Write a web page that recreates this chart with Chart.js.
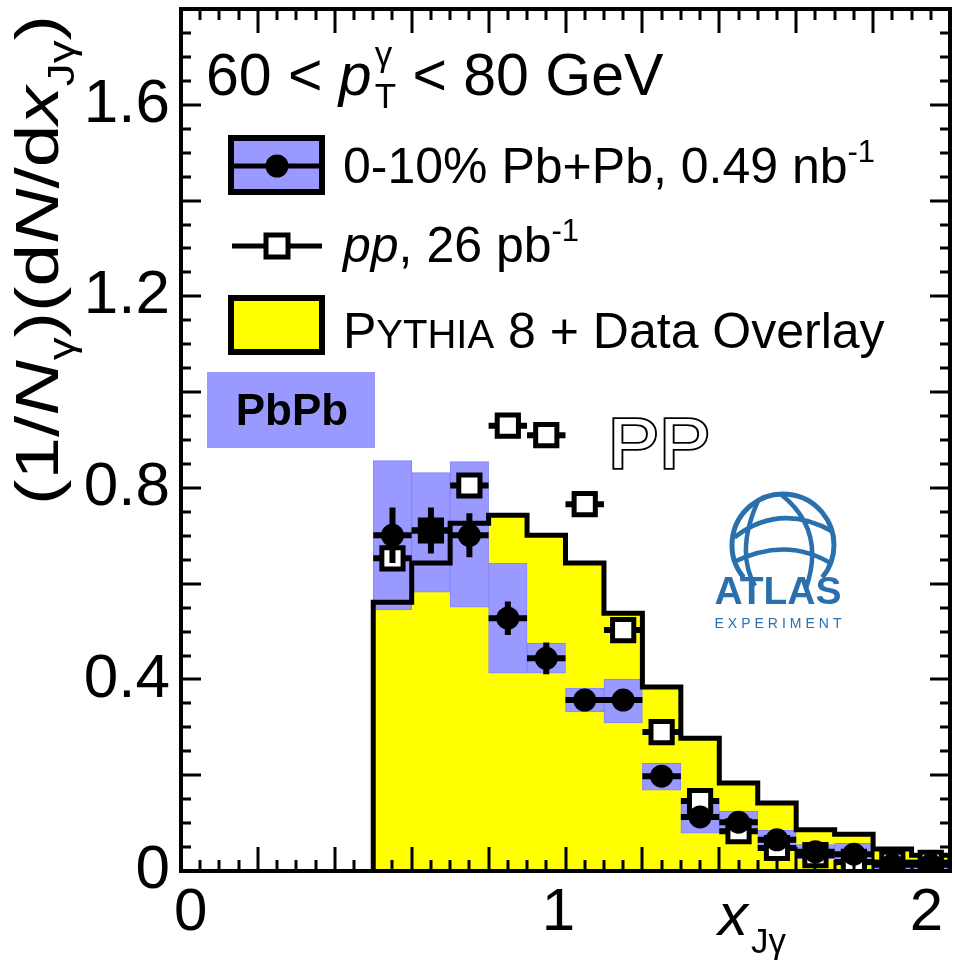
<!DOCTYPE html>
<html>
<head>
<meta charset="utf-8">
<script src="https://cdn.jsdelivr.net/npm/chart.js@4.4.0/dist/chart.umd.min.js"></script>
<style>
  html, body { margin: 0; padding: 0; background: #fff; }
  #wrap { width: 955px; height: 960px; }
</style>
</head>
<body>
<div id="wrap"><canvas id="xjChart" width="955" height="960"></canvas></div>
<script>
// x_Jγ bins (0.1 wide) and the three distributions
const binCenters = [0.55, 0.65, 0.75, 0.85, 0.95, 1.05, 1.15, 1.25, 1.35, 1.45, 1.55, 1.65, 1.75, 1.85, 1.95];
const binHalfWidth = 0.05;

const pbpbValues  = [0.701, 0.711, 0.701, 0.528, 0.444, 0.357, 0.357, 0.198, 0.113, 0.102, 0.065, 0.040, 0.035, 0.013, 0.013];
const pbpbStat    = [0.058, 0.048, 0.046, 0.035, 0.033, 0.020, 0.020, 0.015, 0.012, 0.010, 0.008, 0.006, 0.006, 0.004, 0.004];
const pbpbSysLow  = [0.545, 0.582, 0.551, 0.413, 0.413, 0.332, 0.309, 0.169, 0.079, 0.080, 0.045, 0.025, 0.012, 0.003, 0.003];
const pbpbSysHigh = [0.857, 0.832, 0.855, 0.643, 0.476, 0.382, 0.401, 0.225, 0.144, 0.125, 0.085, 0.055, 0.058, 0.024, 0.024];

const ppValues     = [0.653, 0.711, 0.805, 0.930, 0.910, 0.766, 0.503, 0.290, 0.146, 0.083, 0.048, 0.033, 0.019, 0.017, 0.017];
const pythiaValues = [0.561, 0.643, 0.726, 0.743, 0.701, 0.643, 0.538, 0.384, 0.277, 0.184, 0.142, 0.086, 0.077, 0.046, 0.033];

const xTickLabels = [0, 1, 2];
const yTickLabels = [0, 0.4, 0.8, 1.2, 1.6];

const FONT = "'Liberation Sans', Arial, Helvetica, sans-serif";
const sysBlue = '#9999ff';
const atlasBlue = '#2a70ad';

// build the chart data
const pbpbPoints = binCenters.map((c, i) => ({ x: c, y: pbpbValues[i] }));
const ppPoints = binCenters.map((c, i) => ({ x: c, y: ppValues[i] }));
const sysBoxes = binCenters.map((c, i) => ({ x: c, y: [pbpbSysLow[i], pbpbSysHigh[i]] }));

// histogram outline as steps on the bin edges
const last = binCenters.length - 1;
const pythiaSteps = [{ x: binCenters[0] - binHalfWidth, y: 0 }];
binCenters.forEach((c, i) => pythiaSteps.push({ x: c - binHalfWidth, y: pythiaValues[i] }));
pythiaSteps.push({ x: binCenters[last] + binHalfWidth, y: pythiaValues[last] });
pythiaSteps.push({ x: binCenters[last] + binHalfWidth, y: 0 });

// --- text helpers (sub/superscripts) ---
function setFont(ctx, p, base) {
  const size = Math.round(base * (p.scale || 1));
  ctx.font = (p.italic ? 'italic ' : '') + (p.bold ? 'bold ' : '') + size + 'px ' + FONT;
}
function richWidth(ctx, parts, base) {
  let w = 0;
  parts.forEach(p => {
    setFont(ctx, p, base);
    if (!p.noAdvance) w += ctx.measureText(p.text).width + (p.dx || 0);
  });
  return w;
}
function drawRich(ctx, parts, base, x, y) {
  let cx = x;
  ctx.textAlign = 'left';
  parts.forEach(p => {
    setFont(ctx, p, base);
    ctx.fillText(p.text, cx + (p.dx || 0), y + (p.dy || 0) * base);
    if (!p.noAdvance) cx += ctx.measureText(p.text).width + (p.dx || 0);
  });
}

// error bars under the markers
const errorBars = {
  id: 'errorBars',
  beforeDatasetDraw(chart, args) {
    const ds = chart.data.datasets[args.index];
    if (!ds.xHalf) return;
    const { ctx, chartArea: a, scales: { x, y } } = chart;
    ctx.save();
    ctx.beginPath();
    ctx.rect(a.left, a.top, a.right - a.left, a.bottom - a.top);
    ctx.clip();
    ctx.strokeStyle = '#000';
    ctx.lineWidth = ds.barLineWidth;
    ctx.lineCap = 'butt';
    ds.data.forEach((pt, i) => {
      const py = y.getPixelForValue(pt.y);
      ctx.beginPath();
      ctx.moveTo(x.getPixelForValue(pt.x - ds.xHalf), py);
      ctx.lineTo(x.getPixelForValue(pt.x + ds.xHalf), py);
      if (ds.yErr) {
        const px = x.getPixelForValue(pt.x);
        ctx.moveTo(px, y.getPixelForValue(pt.y - ds.yErr[i]));
        ctx.lineTo(px, y.getPixelForValue(pt.y + ds.yErr[i]));
      }
      ctx.stroke();
    });
    ctx.restore();
  }
};

// ROOT style frame with inward ticks on all four sides
const frameAndTicks = {
  id: 'frameAndTicks',
  afterDatasetsDraw(chart) {
    const { ctx, chartArea: a, scales: { x, y } } = chart;
    ctx.save();
    ctx.strokeStyle = '#000';
    ctx.lineWidth = 3;
    ctx.beginPath();
    for (let i = 0; i <= 40; i++) {
      const px = Math.round(x.getPixelForValue(i * 0.05));
      const len = i % 4 === 0 ? 24 : 11;
      ctx.moveTo(px, a.bottom); ctx.lineTo(px, a.bottom - len);
      ctx.moveTo(px, a.top); ctx.lineTo(px, a.top + len);
    }
    for (let i = 0; i <= 36; i++) {
      const py = Math.round(y.getPixelForValue(i * 0.05));
      const len = i % 4 === 0 ? 20 : 10;
      ctx.moveTo(a.left, py); ctx.lineTo(a.left + len, py);
      ctx.moveTo(a.right, py); ctx.lineTo(a.right - len, py);
    }
    ctx.stroke();
    ctx.lineWidth = 4;
    ctx.strokeRect(a.left, a.top, a.right - a.left, a.bottom - a.top);
    ctx.restore();
  }
};

function drawAtlasLogo(ctx, cx, cy, r) {
  ctx.save();
  ctx.strokeStyle = atlasBlue;
  ctx.fillStyle = atlasBlue;
  ctx.lineWidth = 5;
  ctx.beginPath();
  ctx.arc(cx, cy, r, Math.PI * 0.78, Math.PI * 2.22);
  ctx.stroke();
  ctx.save();
  ctx.beginPath();
  ctx.arc(cx, cy, r, 0, Math.PI * 2);
  ctx.clip();
  ctx.lineWidth = 4.5;
  ctx.beginPath();
  ctx.moveTo(cx - 0.95 * r, cy - 0.15 * r);
  ctx.quadraticCurveTo(cx - 0.05 * r, cy - 0.85 * r, cx + 1.0 * r, cy - 0.25 * r);
  ctx.moveTo(cx - 1.0 * r, cy + 0.35 * r);
  ctx.quadraticCurveTo(cx + 0.1 * r, cy - 0.2 * r, cx + 1.0 * r, cy + 0.4 * r);
  ctx.moveTo(cx - 0.45 * r, cy - 0.95 * r);
  ctx.quadraticCurveTo(cx - 0.95 * r, cy + 0.1 * r, cx - 0.55 * r, cy + 0.8 * r);
  ctx.moveTo(cx - 0.05 * r, cy - 1.0 * r);
  ctx.quadraticCurveTo(cx + 0.85 * r, cy - 0.3 * r, cx + 0.45 * r, cy + 0.85 * r);
  ctx.stroke();
  ctx.restore();
  ctx.textAlign = 'center';
  ctx.textBaseline = 'alphabetic';
  ctx.font = 'bold 39px ' + FONT;
  ctx.fillText('ATLAS', cx - 5, cy + 59);
  ctx.font = '14px ' + FONT;
  const word = 'EXPERIMENT';
  const gap = 4;
  let w = 0;
  for (const ch of word) w += ctx.measureText(ch).width + gap;
  w -= gap;
  let px = cx - 5 - w / 2;
  ctx.textAlign = 'left';
  for (const ch of word) {
    ctx.fillText(ch, px, cy + 83);
    px += ctx.measureText(ch).width + gap;
  }
  ctx.restore();
}

// legend, labels and axis titles
const annotations = {
  id: 'annotations',
  afterDraw(chart) {
    const { ctx } = chart;
    ctx.save();
    ctx.fillStyle = '#000';
    ctx.textBaseline = 'alphabetic';

    // header
    drawRich(ctx, [
      { text: '60 < ' },
      { text: 'p', italic: true },
      { text: 'γ', scale: 0.6, dy: -0.5, dx: 3, noAdvance: true },
      { text: 'T', scale: 0.6, dy: 0.22, dx: 3 },
      { text: ' < 80 GeV' }
    ], 59, 206, 95);

    // entry 1: PbPb with systematic box
    ctx.fillStyle = sysBlue;
    ctx.fillRect(231, 138, 91, 54);
    ctx.strokeStyle = '#000';
    ctx.lineWidth = 6;
    ctx.strokeRect(231, 138, 91, 54);
    ctx.lineWidth = 5;
    ctx.beginPath(); ctx.moveTo(231, 166); ctx.lineTo(322, 166); ctx.stroke();
    ctx.fillStyle = '#000';
    ctx.beginPath(); ctx.arc(277, 166, 11.5, 0, Math.PI * 2); ctx.fill();
    drawRich(ctx, [
      { text: '0-10% Pb+Pb, 0.49 nb' },
      { text: '-1', scale: 0.62, dy: -0.42 }
    ], 50, 343, 183);

    // entry 2: pp
    ctx.lineWidth = 5;
    ctx.beginPath(); ctx.moveTo(232, 246); ctx.lineTo(322, 246); ctx.stroke();
    ctx.fillStyle = '#fff';
    ctx.fillRect(266, 235, 22, 22);
    ctx.lineWidth = 5;
    ctx.strokeRect(266, 235, 22, 22);
    ctx.fillStyle = '#000';
    drawRich(ctx, [
      { text: 'pp', italic: true },
      { text: ', 26 pb' },
      { text: '-1', scale: 0.62, dy: -0.42 }
    ], 50, 343, 262);

    // entry 3: Pythia
    ctx.fillStyle = '#ffff00';
    ctx.fillRect(231, 298, 91, 54);
    ctx.lineWidth = 6;
    ctx.strokeRect(231, 298, 91, 54);
    ctx.fillStyle = '#000';
    drawRich(ctx, [
      { text: 'P' },
      { text: 'YTHIA', scale: 0.8 },
      { text: ' 8 + Data Overlay' }
    ], 50, 343, 348);

    // PbPb tag
    ctx.fillStyle = sysBlue;
    ctx.fillRect(207, 372, 168, 76);
    ctx.fillStyle = '#000';
    ctx.font = 'bold 44px ' + FONT;
    ctx.textAlign = 'center';
    ctx.fillText('PbPb', 292, 425);

    // outlined PP tag
    ctx.save();
    ctx.translate(608, 468);
    ctx.scale(1.08, 1);
    ctx.font = '71px ' + FONT;
    ctx.textAlign = 'left';
    ctx.lineWidth = 3.5;
    ctx.strokeStyle = '#000';
    ctx.strokeText('PP', 0, 0);
    ctx.fillStyle = '#fff';
    ctx.fillText('PP', 0, 0);
    ctx.restore();

    drawAtlasLogo(ctx, 783, 545, 51);

    // axis titles
    ctx.fillStyle = '#000';
    const yTitle = [
      { text: '(1/' },
      { text: 'N', italic: true },
      { text: 'γ', scale: 0.6, dy: 0.25 },
      { text: ')(d' },
      { text: 'N', italic: true },
      { text: '/d' },
      { text: 'x', italic: true },
      { text: 'Jγ', scale: 0.6, dy: 0.25 },
      { text: ')' }
    ];
    const yBase = 62;
    const wy = richWidth(ctx, yTitle, yBase);
    ctx.save();
    ctx.translate(58, 260);
    ctx.rotate(-Math.PI / 2);
    ctx.scale(490 / wy, 1);
    drawRich(ctx, yTitle, yBase, -wy / 2, 0);
    ctx.restore();

    drawRich(ctx, [
      { text: 'x', italic: true },
      { text: 'Jγ', scale: 0.58, dy: 0.3, dx: 3 }
    ], 60, 718, 935);

    ctx.restore();
  }
};

new Chart(document.getElementById('xjChart'), {
  type: 'scatter',
  data: {
    datasets: [
      {
        type: 'scatter', label: '0-10% Pb+Pb', data: pbpbPoints, order: 0,
        pointStyle: 'circle', pointRadius: 11.5, backgroundColor: '#000', borderWidth: 0,
        xHalf: binHalfWidth, yErr: pbpbStat, barLineWidth: 6
      },
      {
        type: 'scatter', label: 'pp', data: ppPoints, order: 1,
        pointStyle: 'rect', pointRadius: 15, backgroundColor: '#fff', borderColor: '#000', borderWidth: 5,
        xHalf: binHalfWidth, barLineWidth: 6
      },
      {
        type: 'line', label: 'Pythia 8 + Data Overlay', data: pythiaSteps, order: 2,
        showLine: true, stepped: true, fill: 'origin', backgroundColor: '#ffff00',
        borderColor: '#000', borderWidth: 5, pointRadius: 0, tension: 0, borderJoinStyle: 'miter'
      },
      {
        type: 'bar', label: 'Pb+Pb syst.', data: sysBoxes, order: 3,
        backgroundColor: sysBlue, borderColor: '#8484ff', borderWidth: 1, borderSkipped: false,
        barPercentage: 1, categoryPercentage: 1
      }
    ]
  },
  options: {
    responsive: false,
    animation: false,
    devicePixelRatio: 1,
    events: [],
    layout: { autoPadding: false, padding: { top: 9, right: 5, left: 0, bottom: 0 } },
    plugins: {
      legend: { display: false },
      tooltip: { enabled: false },
      filler: { drawTime: 'beforeDatasetsDraw' }
    },
    scales: {
      x: {
        type: 'linear', min: 0, max: 2, offset: false,
        grid: { display: false, drawTicks: false },
        border: { display: false },
        ticks: {
          color: '#000', font: { family: FONT, size: 60 }, padding: 6,
          align: 'inner', labelOffset: -7, autoSkip: false, maxRotation: 0,
          callback: v => String(v)
        },
        afterBuildTicks: s => { s.ticks = xTickLabels.map(v => ({ value: v })); },
        afterFit: s => {
          s.height = 89;
          s.paddingLeft = 0; s.paddingRight = 0; s.paddingTop = 0; s.paddingBottom = 0;
        }
      },
      y: {
        type: 'linear', min: 0, max: 1.8,
        grid: { display: false, drawTicks: false },
        border: { display: false },
        ticks: {
          color: '#000', font: { family: FONT, size: 62 }, padding: 11,
          callback: v => (v === 0 ? '0' : v.toFixed(1))
        },
        afterBuildTicks: s => { s.ticks = yTickLabels.map(v => ({ value: v })); },
        afterFit: s => {
          s.width = 181;
          s.paddingLeft = 0; s.paddingRight = 0; s.paddingTop = 0; s.paddingBottom = 0;
        }
      }
    }
  },
  plugins: [errorBars, frameAndTicks, annotations]
});
</script>
</body>
</html>
